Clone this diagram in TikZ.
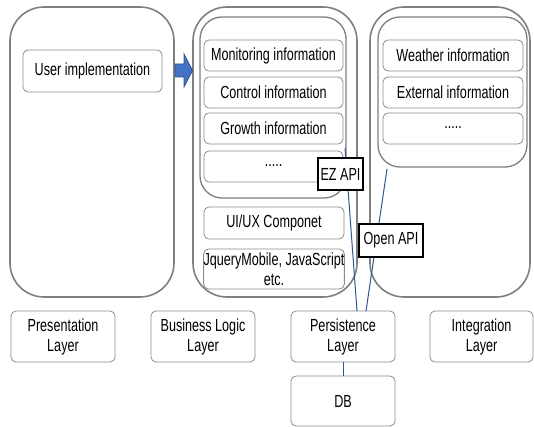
\documentclass[tikz,border=0pt]{standalone}
\usepackage{fontspec}
\setmainfont[FakeStretch=0.72]{Liberation Sans}
\definecolor{biggray}{HTML}{7F7F7F}
\definecolor{smallgray}{HTML}{8C8C8C}
\definecolor{arrowblue}{HTML}{4472C4}
\definecolor{arrowedge}{HTML}{2F528F}
\definecolor{linkblue}{HTML}{2F5597}
\tikzset{
  bigbox/.style={draw=biggray, line width=1.6pt, rounded corners=34pt, inner sep=0pt, fill=white},
  innerbox/.style={draw=biggray, line width=1.3pt, rounded corners=22pt, inner sep=0pt, fill=white},
  smallbox/.style={draw=smallgray, line width=0.8pt, rounded corners=5pt, inner sep=0pt, fill=white,
    font=\fontsize{17.5}{20}\selectfont, align=center},
  apibox/.style={draw=black, line width=2pt, inner sep=0pt, fill=white, font=\fontsize{17.5}{20}\selectfont},
  link/.style={draw=linkblue, line width=1pt}
}
\begin{document}
\begin{tikzpicture}[x=1pt,y=-1pt]
\useasboundingbox (0,0) rectangle (534,427);
% big containers
\node[bigbox, minimum width=164pt, minimum height=290pt] (pres big) at (92,152) {};
\node[bigbox, minimum width=164pt, minimum height=290pt] (biz big) at (275,152) {};
\node[bigbox, minimum width=160pt, minimum height=290pt] (int big) at (450,152) {};
\node[innerbox, minimum width=146pt, minimum height=181pt] (biz inner) at (273,107.5) {};
\node[innerbox, minimum width=149pt, minimum height=150pt] (int inner) at (452.5,92) {};
% presentation
\node[smallbox, minimum width=139pt, minimum height=42pt] (user) at (92.5,71) {User implementation};
% business logic
\node[smallbox, minimum width=139pt, minimum height=31pt] (mon) at (273.5,55.5) {Monitoring information};
\node[smallbox, minimum width=139pt, minimum height=31pt] (ctl) at (273.5,92.5) {Control information};
\node[smallbox, minimum width=139pt, minimum height=31pt] (gro) at (273.5,128.5) {Growth information};
\node[smallbox, minimum width=139pt, minimum height=31pt] (bdots) at (273.5,166.5) {\raisebox{2pt}{.....}};
\node[smallbox, minimum width=140pt, minimum height=32pt] (ui) at (274,223) {UI/UX Componet};
\node[smallbox, minimum width=140pt, minimum height=40pt] (jq) at (274,269) {JqueryMobile, JavaScript\\etc.};
% integration
\node[smallbox, minimum width=140pt, minimum height=31pt] (wea) at (453,55.5) {Weather information};
\node[smallbox, minimum width=140pt, minimum height=31pt] (ext) at (453,92.5) {External information};
\node[smallbox, minimum width=140pt, minimum height=31pt] (idots) at (453,128.5) {\raisebox{2pt}{.....}};
% layer labels
\node[smallbox, minimum width=104pt, minimum height=51pt] (presl) at (63,336.5) {Presentation\\Layer};
\node[smallbox, minimum width=104pt, minimum height=51pt] (bizl) at (203,336.5) {Business Logic\\Layer};
\node[smallbox, minimum width=104pt, minimum height=51pt] (pers) at (343,336.5) {Persistence\\Layer};
\node[smallbox, minimum width=103pt, minimum height=51pt] (intl) at (481.5,336.5) {Integration\\Layer};
\node[smallbox, minimum width=104pt, minimum height=50pt] (db) at (343,401) {DB};
% block arrow
\draw[fill=arrowblue, draw=arrowedge, line width=0.8pt]
  (175,64) -- (184,64) -- (184,54) -- (192.5,70.5) -- (184,87) -- (184,77) -- (175,77) -- cycle;
% links
\coordinate (ezend) at (345,148);
\coordinate (openend) at (387,169);
\coordinate (pers a) at (357,311);
\coordinate (pers b) at (366,311);
\draw[link] (pers a) -- (ezend);
\draw[link] (pers b) -- (openend);
\draw[link] (pers.south) -- (db.north);
% API labels
\node[apibox, minimum width=45pt, minimum height=32pt] (ez) at (340.5,174) {EZ API};
\node[apibox, minimum width=64pt, minimum height=33pt] (open) at (391,240.5) {Open API};
\end{tikzpicture}
\end{document}
